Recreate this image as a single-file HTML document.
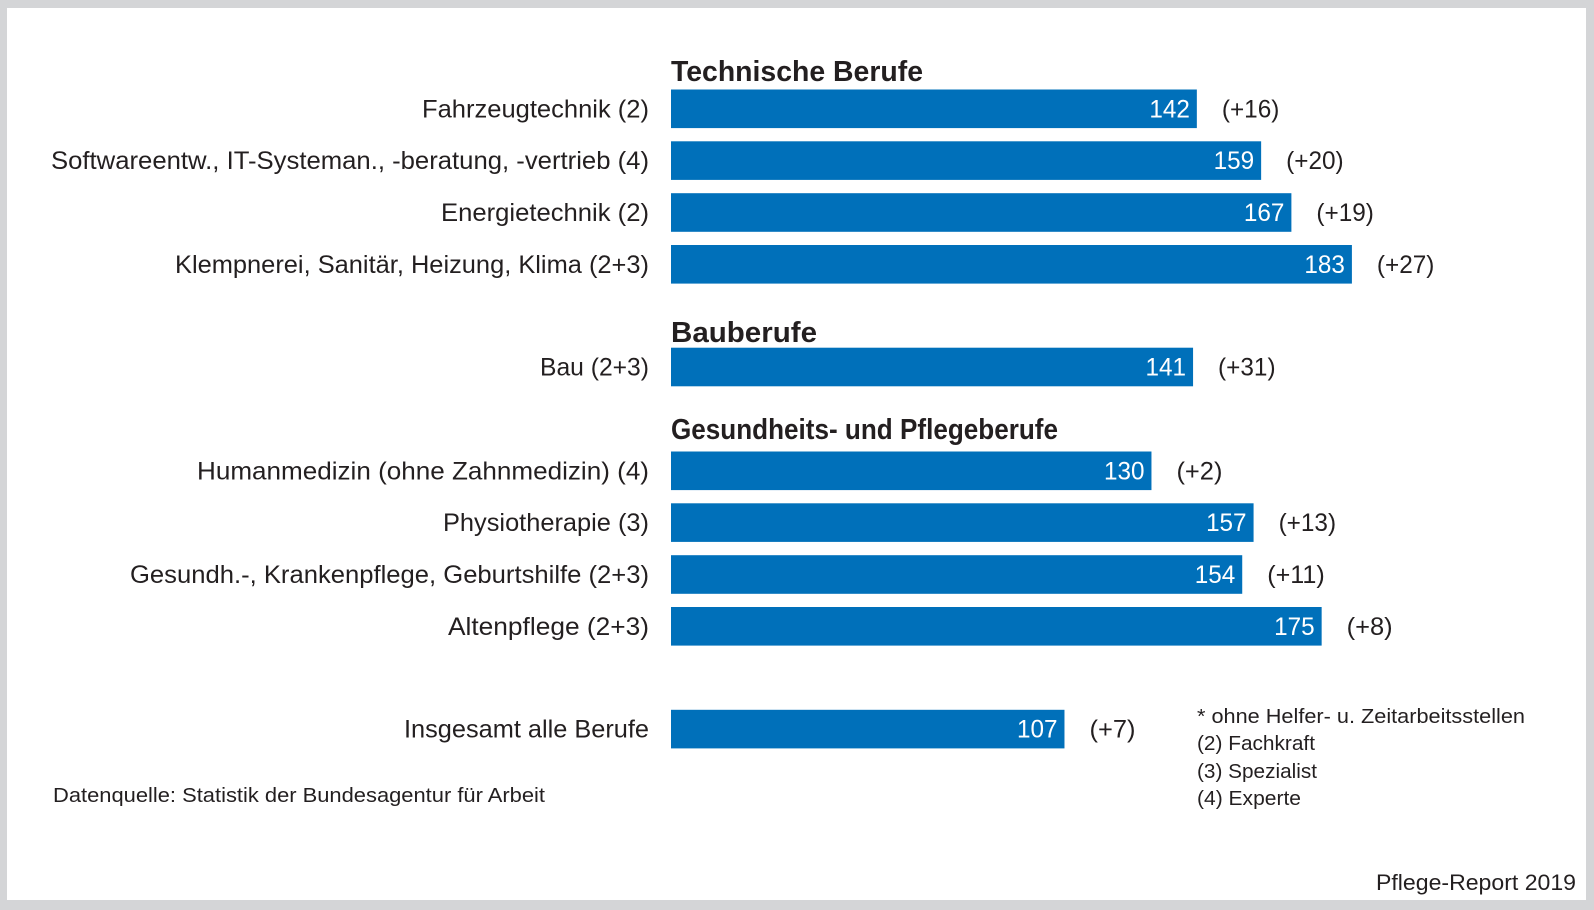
<!DOCTYPE html>
<html><head><meta charset="utf-8"><style>
html,body{margin:0;padding:0;background:#d4d5d7;}
svg{display:block;font-family:"Liberation Sans",sans-serif;}
</style></head><body>
<svg id="chart" width="1594" height="910" viewBox="0 0 1594 910">
<rect x="7" y="8" width="1579" height="892" fill="#fff"/>
<text x="671" y="81" font-size="29" font-weight="bold" fill="#231f20" textLength="252" lengthAdjust="spacingAndGlyphs">Technische Berufe</text>
<text x="671" y="342" font-size="29" font-weight="bold" fill="#231f20" textLength="146" lengthAdjust="spacingAndGlyphs">Bauberufe</text>
<text x="671" y="439" font-size="29" font-weight="bold" fill="#231f20" textLength="387" lengthAdjust="spacingAndGlyphs">Gesundheits- und Pflegeberufe</text>
<g id="bars"></g>
<text x="1197" y="723" font-size="20.5" fill="#231f20" textLength="328" lengthAdjust="spacingAndGlyphs">* ohne Helfer- u. Zeitarbeitsstellen</text>
<text x="1197" y="750" font-size="20.5" fill="#231f20" textLength="118" lengthAdjust="spacingAndGlyphs">(2) Fachkraft</text>
<text x="1197" y="778" font-size="20.5" fill="#231f20" textLength="120" lengthAdjust="spacingAndGlyphs">(3) Spezialist</text>
<text x="1197" y="805" font-size="20.5" fill="#231f20" textLength="104" lengthAdjust="spacingAndGlyphs">(4) Experte</text>
<text x="53" y="802" font-size="20.5" fill="#231f20" textLength="492" lengthAdjust="spacingAndGlyphs">Datenquelle: Statistik der Bundesagentur für Arbeit</text>
<text x="1576" y="890" font-size="22" fill="#231f20" text-anchor="end" textLength="200" lengthAdjust="spacingAndGlyphs">Pflege-Report 2019</text>
</svg>
<script>
const categories = ["Fahrzeugtechnik (2)","Softwareentw., IT-Systeman., -beratung, -vertrieb (4)","Energietechnik (2)","Klempnerei, Sanitär, Heizung, Klima (2+3)","Bau (2+3)","Humanmedizin (ohne Zahnmedizin) (4)","Physiotherapie (3)","Gesundh.-, Krankenpflege, Geburtshilfe (2+3)","Altenpflege (2+3)","Insgesamt alle Berufe"];
const values = [142,159,167,183,141,130,157,154,175,107];
const changes = ["(+16)","(+20)","(+19)","(+27)","(+31)","(+2)","(+13)","(+11)","(+8)","(+7)"];
const labelWidths = [227,598,208,474,109,452,206,519,201,245];
const rowTops = [89.5,141.3,193.2,245,347.7,451.5,503.3,555.2,607,709.8];

const NS="http://www.w3.org/2000/svg";
const g=document.getElementById('bars');
const x0=671;
function xScale(v){return x0+3.782*v-11.2;}
const barH=38.6;
function mk(tag,attrs,txt){const e=document.createElementNS(NS,tag);for(const k in attrs)e.setAttribute(k,attrs[k]);if(txt!==undefined)e.textContent=txt;g.appendChild(e);return e;}
for(let i=0;i<values.length;i++){
  const y=rowTops[i], xe=xScale(values[i]);
  const lab=mk('text',{x:649,y:y+barH/2+8.5,'font-size':25,fill:'#231f20','text-anchor':'end',textLength:labelWidths[i],lengthAdjust:'spacingAndGlyphs'},categories[i]);
  
  
  const r=mk('rect',{x:x0,y:y,width:xe-x0,height:barH,fill:'#0070ba'});
  
  
  const v=mk('text',{x:xe-7,y:y+barH/2+8.5,'font-size':25,fill:'#fff','text-anchor':'end',textLength:String(values[i]).length*13.5,lengthAdjust:'spacingAndGlyphs'},String(values[i]));
  
  
  const c=mk('text',{x:xe+25,y:y+barH/2+8.5,'font-size':25,fill:'#231f20',textLength:changes[i].length*11.5,lengthAdjust:'spacingAndGlyphs'},changes[i]);
  
  
}
</script>
</body></html>
